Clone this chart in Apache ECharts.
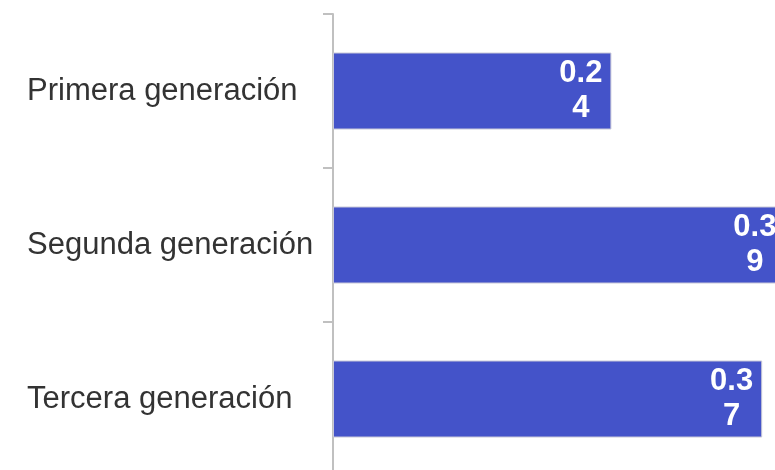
<!DOCTYPE html>
<html>
<head>
<meta charset="utf-8">
<script src="https://cdn.jsdelivr.net/npm/echarts@6/dist/echarts.min.js"></script>
<style>html,body{margin:0;padding:0;background:#fff;overflow:hidden;width:775px;height:470px;}#c{width:797px;height:476px;}</style>
</head>
<body>
<div id="c"></div>
<script>
var categories = ['Primera generación', 'Segunda generación', 'Tercera generación'];
var values = [0.24, 0.39, 0.37];

var chart = echarts.init(document.getElementById('c'), null, {renderer: 'canvas', width: 797, height: 476});
chart.setOption({
  animation: false,
  grid: {left: 333, right: 0, top: 14, bottom: 0, containLabel: false},
  xAxis: {type: 'value', min: 0, max: 0.4, show: false},
  yAxis: {
    type: 'category', data: categories, inverse: true,
    axisLine: {show: true, lineStyle: {color: '#c0c0c0', width: 2}},
    axisTick: {show: true, length: 10, lineStyle: {color: '#c0c0c0', width: 2}},
    axisLabel: {
      align: 'left', margin: 306, color: '#333333',
      fontFamily: 'Liberation Sans, Arial, sans-serif', fontSize: 31
    },
    splitLine: {show: false}
  },
  series: [{
    type: 'bar', data: values, barWidth: '50%',
    itemStyle: {color: '#4453c9', borderColor: '#c8c8d8', borderWidth: 1},
    label: {
      show: true, position: 'insideRight', distance: 9,
      formatter: function (p) {
        var s = String(p.value);
        return '{a|' + s.slice(0, 3) + '}\n{a|' + s.slice(3) + '}';
      },
      rich: {
        a: {
          align: 'center', color: '#ffffff', fontWeight: 'bold',
          fontFamily: 'Liberation Sans, Arial, sans-serif', fontSize: 31, lineHeight: 35
        }
      }
    }
  }]
});
</script>
</body>
</html>
